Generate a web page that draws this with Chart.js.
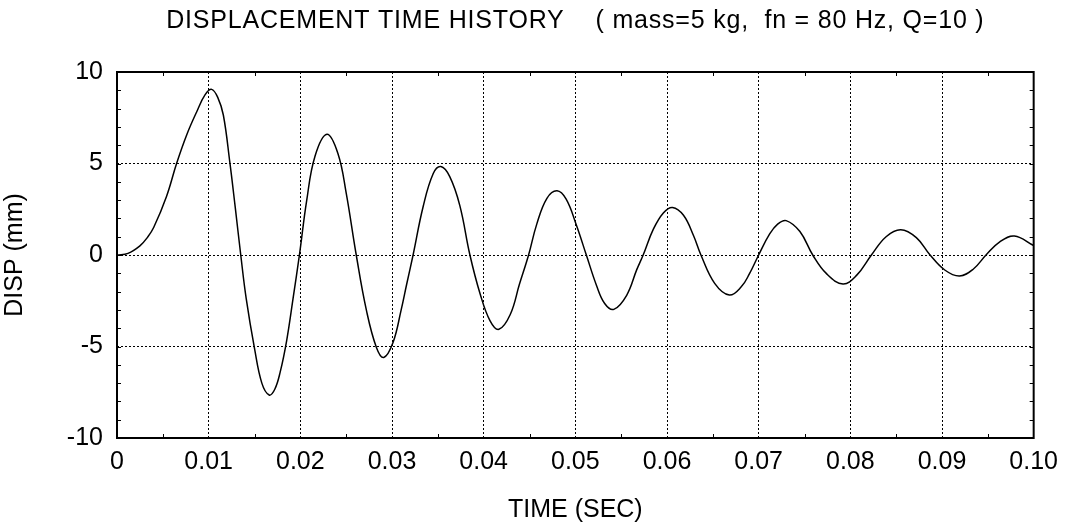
<!DOCTYPE html>
<html>
<head>
<meta charset="utf-8">
<script src="https://cdn.jsdelivr.net/npm/chart.js@4.4.1/dist/chart.umd.min.js"></script>
<style>
  html, body { margin: 0; padding: 0; background: #fff; }
  #wrap { width: 1067px; height: 529px; }
</style>
</head>
<body>
<div id="wrap"><canvas id="chart" width="1067" height="529"></canvas></div>
<script>
const chartTitle = "DISPLACEMENT TIME HISTORY    ( mass=5 kg,  fn = 80 Hz, Q=10 )";

// time (sec) and displacement (mm)
const timeSec = [
  0, 0.0012, 0.0025, 0.0033, 0.0040, 0.0054, 0.0065, 0.0076, 0.0087, 0.0096, 0.01033,
  0.0110, 0.0116, 0.0123, 0.0129, 0.0135, 0.0141, 0.0150, 0.0158, 0.0166,
  0.0172, 0.0178, 0.0185, 0.0192, 0.0199, 0.0207, 0.0216, 0.0229,
  0.0241, 0.0250, 0.0261, 0.0272, 0.0283, 0.0291,
  0.0301, 0.0310, 0.0316, 0.0323, 0.0334, 0.0345, 0.03533,
  0.0363, 0.0374, 0.0385, 0.0396, 0.0407, 0.04166,
  0.0429, 0.0439, 0.0449, 0.0458, 0.0469, 0.0480,
  0.0490, 0.0501, 0.0512, 0.0523, 0.0532, 0.0542,
  0.0556, 0.0567, 0.0574, 0.0585, 0.0596, 0.0606,
  0.0618, 0.0629, 0.0637, 0.0652, 0.0668,
  0.0681, 0.0690, 0.0700, 0.0712, 0.0721, 0.0730,
  0.0745, 0.0759, 0.0774, 0.0792,
  0.0807, 0.0823, 0.0839, 0.0855,
  0.0872, 0.0887, 0.0903, 0.0919,
  0.0934, 0.0948, 0.0963, 0.0979, 0.1
];
const dispMm = [
  0, 0.09, 0.5, 0.95, 1.5, 3.2, 5.0, 6.56, 7.83, 8.75, 9.05,
  8.6, 7.65, 5.1, 2.6, 0.0, -2.4, -5.1, -7.0, -7.65,
  -7.35, -6.4, -4.7, -2.4, 0.0, 3.0, 5.4, 6.6,
  5.55, 3.4, 0.0, -3.0, -5.05, -5.6,
  -4.8, -3.0, -1.6, 0.0, 2.65, 4.45, 4.83,
  4.28, 2.7, 0.0, -2.1, -3.6, -4.06,
  -3.25, -1.6, 0.0, 1.7, 3.1, 3.51,
  3.05, 1.65, 0.0, -1.65, -2.65, -2.97,
  -2.2, -0.8, 0.0, 1.4, 2.3, 2.6,
  2.17, 1.05, 0.0, -1.55, -2.19,
  -1.74, -1.02, 0.0, 1.15, 1.7, 1.88,
  1.28, 0.0, -1.02, -1.58,
  -1.1, 0.0, 1.0, 1.38,
  0.95, 0.0, -0.82, -1.15,
  -0.78, 0.0, 0.72, 1.04, 0.52
];

const xTickLabels = ["0", "0.01", "0.02", "0.03", "0.04", "0.05", "0.06", "0.07", "0.08", "0.09", "0.10"];
const yTickLabels = ["-10", "-5", "0", "5", "10"];

const fontFamily = '"Liberation Sans", Arial, sans-serif';

const points = timeSec.map((t, i) => ({ x: t, y: dispMm[i] }));

// frame, minor ticks and the title
const framePlugin = {
  id: 'frame',
  afterDraw(chart) {
    const ctx = chart.ctx;
    const area = chart.chartArea;
    const xs = chart.scales.x;
    const ys = chart.scales.y;
    ctx.save();
    ctx.strokeStyle = '#000';
    ctx.lineWidth = 1;
    // y minor ticks every 1 mm, both sides
    for (let v = -9; v <= 9; v++) {
      const py = Math.round(ys.getPixelForValue(v)) + 0.5;
      ctx.beginPath();
      ctx.moveTo(area.left, py); ctx.lineTo(area.left + 4, py);
      ctx.moveTo(area.right, py); ctx.lineTo(area.right - 4, py);
      ctx.stroke();
    }
    // x minor ticks every 0.005 s, top and bottom
    for (let k = 1; k < 20; k += 2) {
      const px = Math.round(xs.getPixelForValue(k * 0.005)) + 0.5;
      ctx.beginPath();
      ctx.moveTo(px, area.bottom); ctx.lineTo(px, area.bottom - 4);
      ctx.moveTo(px, area.top); ctx.lineTo(px, area.top + 4);
      ctx.stroke();
    }
    ctx.lineWidth = 2;
    ctx.strokeRect(area.left, area.top, area.right - area.left, area.bottom - area.top);

    ctx.fillStyle = '#000';
    ctx.font = '25px ' + fontFamily;
    ctx.letterSpacing = '0.8px';
    ctx.textAlign = 'center';
    ctx.textBaseline = 'middle';
    ctx.fillText(chartTitle, (area.left + area.right) / 2, 21);
    ctx.restore();
  }
};

new Chart(document.getElementById('chart'), {
  type: 'line',
  data: {
    datasets: [{
      data: points,
      borderColor: '#000',
      borderWidth: 1.5,
      pointRadius: 0,
      fill: false,
      tension: 0.4
    }]
  },
  options: {
    responsive: false,
    animation: false,
    layout: { padding: { top: 72, right: 32, left: 0, bottom: 0 } },
    plugins: {
      legend: { display: false },
      tooltip: { enabled: false }
    },
    scales: {
      x: {
        type: 'linear',
        min: 0,
        max: 0.1,
        afterFit(scale) { scale.height = 91; },
        ticks: {
          stepSize: 0.01,
          autoSkip: false,
          maxRotation: 0,
          padding: 9,
          color: '#000',
          font: { family: fontFamily, size: 25 },
          callback: (v, i) => xTickLabels[i]
        },
        grid: { color: '#000', lineWidth: 1, drawTicks: false },
        border: { display: false, dash: [2, 2] },
        title: {
          display: true,
          text: 'TIME (SEC)',
          color: '#000',
          font: { family: fontFamily, size: 25 },
          padding: { top: 0, bottom: 4 }
        }
      },
      y: {
        min: -10,
        max: 10,
        afterFit(scale) { scale.width = 117; },
        ticks: {
          stepSize: 5,
          padding: 14,
          color: '#000',
          font: { family: fontFamily, size: 25 },
          callback: (v, i) => yTickLabels[i]
        },
        grid: { color: '#000', lineWidth: 1, drawTicks: false },
        border: { display: false, dash: [2, 2] },
        title: {
          display: true,
          text: 'DISP (mm)',
          color: '#000',
          font: { family: fontFamily, size: 25 },
          padding: { top: 0, bottom: 0 }
        }
      }
    }
  },
  plugins: [framePlugin]
});
</script>
</body>
</html>
